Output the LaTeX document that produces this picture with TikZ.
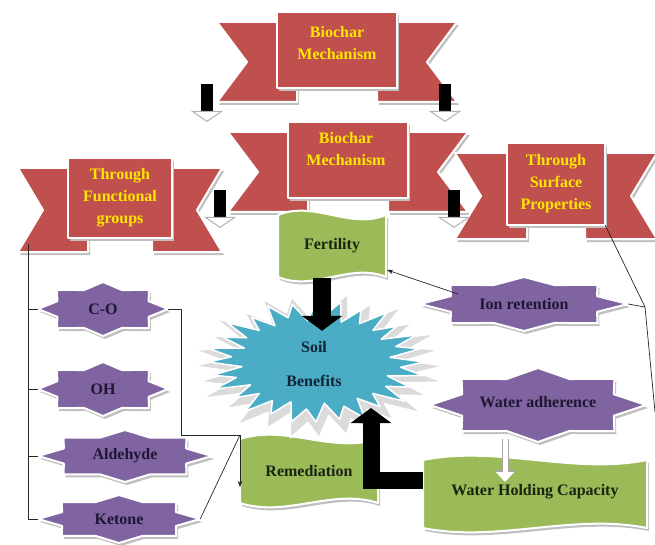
\documentclass[tikz,border=0pt]{standalone}
\usepackage{fontspec}
\setmainfont{Liberation Serif}
\usetikzlibrary{arrows.meta,shadows}
\definecolor{ribred}{HTML}{C0504D}
\definecolor{leafgreen}{HTML}{9BBB59}
\definecolor{starpurple}{HTML}{8064A2}
\definecolor{burstblue}{HTML}{4BACC6}
\definecolor{bannertext}{HTML}{FFE600}
\definecolor{inkgreen}{HTML}{1B2410}
\definecolor{inkviolet}{HTML}{1E1633}
\definecolor{inknavy}{HTML}{0F2436}
\tikzset{
  diagram/.style={x=1pt,y=-1pt,>=Stealth,line join=round},
  shade/.style={drop shadow={shadow xshift=2pt,shadow yshift=-3pt,fill=black!25,opacity=1}},
  ribbonpart/.style={fill=ribred,draw=white,line width=2pt,shade},
  leafpart/.style={fill=leafgreen,draw=white,line width=2pt,shade},
  starpart/.style={fill=starpurple,draw=white,line width=2pt,shade},
  burstpart/.style={fill=burstblue,draw=white,line width=1.5pt},
  bannerlabel/.style={font=\fontsize{16}{22}\selectfont\bfseries,text=bannertext,align=center,inner sep=0pt},
  leaflabel/.style={font=\fontsize{16}{20}\selectfont\bfseries,text=inkgreen,inner sep=0pt},
  starlabel/.style={font=\fontsize{16}{20}\selectfont\bfseries,text=inkviolet,inner sep=0pt},
  burstlabel/.style={font=\fontsize{16}{20}\selectfont\bfseries,text=inknavy,align=center,inner sep=0pt},
  wire/.style={draw=black!85,line width=0.7pt},
  fatarrow/.style={draw=black,line width=18pt,line cap=butt,line join=miter,-{Triangle[length=15pt,width=40pt]}},
  stubarrow/.style={draw=black,line width=12pt,line cap=butt,-{Triangle[length=11pt,width=32pt,color=black!30,fill=white,line width=1pt]}},
  whitearrow/.style={draw=white,line width=5pt,line cap=butt,-{Triangle[length=10pt,width=18pt]},
    preaction={draw=black!35,line width=7pt,-{Triangle[length=12pt,width=22pt]}}},
  % ribbon banner: half width / half height / tail width
  pics/ribbon/.style args={#1/#2/#3}{code={
    \fill[ribbonpart] (-#1-#3,-#2+10) -- (-#1+20,-#2+10) -- (-#1+20,#2+14) -- (-#1-#3,#2+14) -- (-#1-#3/2,12) -- cycle;
    \fill[ribbonpart] (#1+#3,-#2+10) -- (#1-20,-#2+10) -- (#1-20,#2+14) -- (#1+#3,#2+14) -- (#1+#3/2,12) -- cycle;
    \fill[ribbonpart] (-#1,-#2) rectangle (#1,#2);
  }},
  % waving flag: half width / half height
  pics/wave/.style args={#1/#2}{code={
    \fill[leafpart] (-#1,-#2) .. controls (-#1/3,-#2-15) and (#1/3,-#2+15) .. (#1,-#2)
      -- (#1,#2) .. controls (#1/3,#2-15) and (-#1/3,#2+15) .. (-#1,#2) -- cycle;
  }},
  % eight point star: half width / half height
  pics/octstar/.style args={#1/#2}{code={
    \fill[starpart] (#1,0) \foreach \k in {1,...,15}{
      -- ({(0.88+0.12*cos(\k*180))*#1*cos(\k*22.5)},{(0.88+0.12*cos(\k*180))*#2*sin(\k*22.5)}) } -- cycle;
  }},
  % spiky burst: half width / half height
  pics/burst/.style args={#1/#2}{code={
    \fill[black!14,draw=white,line width=1.5pt] (1.16*#1+3,4) \foreach \k in {1,...,55}{
      -- ({(0.87+0.13*cos(\k*180)+0.05*sin(\k*77))*1.16*#1*cos(\k*45/7)+3},{(0.87+0.13*cos(\k*180)+0.05*sin(\k*77))*1.2*#2*sin(\k*45/7)+4}) } -- cycle;
    \fill[burstpart] (#1,0) \foreach \k in {1,...,55}{
      -- ({(0.87+0.13*cos(\k*180)+0.05*sin(\k*77))*#1*cos(\k*45/7)},{(0.87+0.13*cos(\k*180)+0.05*sin(\k*77))*#2*sin(\k*45/7)}) } -- cycle;
  }}
}

\begin{document}
\begin{tikzpicture}[diagram]
  \useasboundingbox (0,0) rectangle (655,545);
  % banners
  \pic at (337,50) {ribbon=60/38/60};
  \node[bannerlabel] (mech1) at (337,43) {Biochar\\Mechanism};
  \pic at (348,160) {ribbon=60/38/60};
  \node[bannerlabel] (mech2) at (346,149) {Biochar\\Mechanism};
  \pic at (120,198) {ribbon=52/40/50};
  \node[bannerlabel,minimum width=104,minimum height=80] (func) at (120,198) {Through\\Functional\\groups};
  \pic at (556,184) {ribbon=49/41/52};
  \node[bannerlabel,minimum width=98,minimum height=82] (surf) at (556,184) {Through\\Surface\\Properties};
  % flags
  \pic at (332,246) {wave=54/31};
  \node[leaflabel,minimum width=108,minimum height=64] (fert) at (332,246) {Fertility};
  \pic at (309,471) {wave=69/32};
  \node[leaflabel,minimum width=138,minimum height=64] (rem) at (309,471) {Remediation};
  \pic at (535,494) {wave=112/34};
  \node[leaflabel,minimum width=224,minimum height=68] (whc) at (535,492) {Water Holding Capacity};
  % centre
  \pic at (316,362) {burst=108/60};
  \node[burstlabel,minimum height=66] (soil) at (314,364) {Soil\\[14pt]Benefits};
  % stars
  \pic at (103,309) {octstar=65/27};
  \node[starlabel,minimum width=130,minimum height=54] (co) at (103,309) {C-O};
  \pic at (103,389) {octstar=65/27};
  \node[starlabel,minimum width=130,minimum height=54] (oh) at (103,389) {OH};
  \pic at (125,456) {octstar=87/26};
  \node[starlabel,minimum width=174,minimum height=52] (ald) at (125,456) {Aldehyde};
  \pic at (119,519) {octstar=81/24};
  \node[starlabel,minimum width=162,minimum height=48] (ketone) at (119,519) {Ketone};
  \pic at (524,304) {octstar=104/27};
  \node[starlabel,minimum width=208,minimum height=54] (ion) at (524,304) {Ion retention};
  \pic at (538,405) {octstar=108/37};
  \node[starlabel,minimum width=216,minimum height=74] (wadh) at (538,402) {Water adherence};
  % thin links
  \coordinate (trunk) at (28,244);
  \draw[wire] (trunk) |- (ketone.west);
  \draw[wire] (trunk |- co.west) -- (co.west);
  \draw[wire] (trunk |- oh.west) -- (oh.west);
  \draw[wire] (trunk |- ald.west) -- (ald.west);
  \coordinate (remjoin) at (240,435);
  \coordinate (remtip) at (240,487);
  \draw[wire] (co.east) -- ++(13,0) |- (remjoin);
  \draw[wire] (ketone.east) -- (remjoin);
  \draw[wire,->] (remjoin) -- (remtip);
  \coordinate (rimbend) at (645,307);
  \coordinate (rimfoot) at (655,412);
  \draw[wire] (surf.south east) -- (rimbend) -- (rimfoot);
  \draw[wire] (ion.east) -- (rimbend);
  \coordinate (ionhook) at (458,294);
  \coordinate (fertside) at (387,270);
  \draw[wire,->] (ionhook) -- (fertside);
  % block arrows
  \coordinate (tailL1) at (207,84);
  \coordinate (tailL2) at (207,122);
  \coordinate (tailR1) at (445,84);
  \coordinate (tailR2) at (445,122);
  \draw[stubarrow] (tailL1) -- (tailL2);
  \draw[stubarrow] (tailR1) -- (tailR2);
  \coordinate (wingL1) at (220,190);
  \coordinate (wingL2) at (220,228);
  \coordinate (wingR1) at (454,190);
  \coordinate (wingR2) at (454,228);
  \draw[stubarrow] (wingL1) -- (wingL2);
  \draw[stubarrow] (wingR1) -- (wingR2);
  \coordinate (fertfoot) at (322,278);
  \draw[fatarrow] (fertfoot) -- (fertfoot |- soil.north);
  \coordinate (burstfoot) at (371,408);
  \draw[fatarrow,line width=17pt] ([yshift=12pt]whc.west) -| (burstfoot);
  \coordinate (whcdrop) at (505,482);
  \draw[whitearrow] ([xshift=-33pt]wadh.south) -- (whcdrop);
\end{tikzpicture}
\end{document}
